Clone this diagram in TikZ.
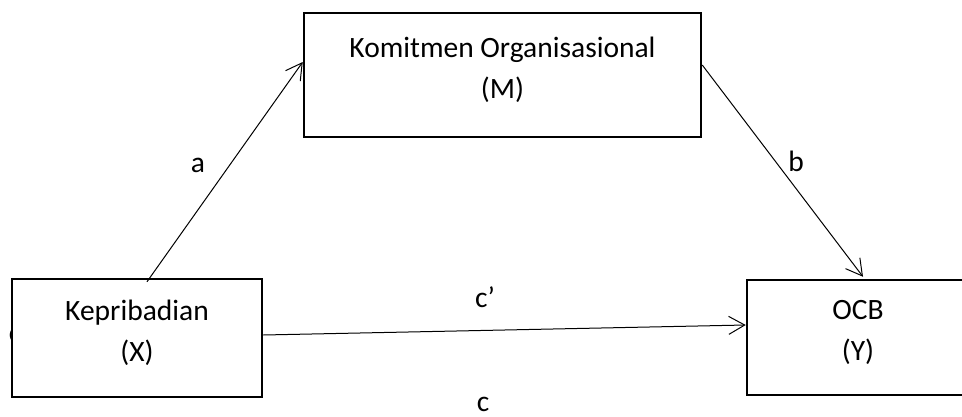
\documentclass[tikz,border=0pt]{standalone}
\usepackage{fontspec}
\setmainfont{Carlito}
\usetikzlibrary{positioning, arrows.meta}

\begin{document}
\begin{tikzpicture}[x=1pt, y=-1pt, main/.style = {draw, line width=2.5pt, fill=white, align=center, inner sep=0pt, text depth=14pt, font=\fontsize{29.5}{41}\selectfont}, arr/.style = {-{Straight Barb[length=16pt, width=18pt]}, line width=1pt}, lbl/.style = {anchor=base, inner sep=0pt, font=\fontsize{29.5}{41}\selectfont}]
            \clip (0,0) rectangle (962,416);
            \node[lbl] (0) at (15,342) {c};
            \node[main, minimum width=250pt, minimum height=118pt] (1) at (137,338) {Kepribadian\\(X)};
            \node[main, minimum width=397pt, minimum height=124pt] (2) at (502.5,75) {Komitmen Organisasional\\(M)};
            \node[main, minimum width=222pt, minimum height=115pt] (3) at (858,337.5) {OCB\\(Y)};
            \draw[arr] ([xshift=10pt, yshift=-4pt]1.north) -- ([yshift=13pt]2.west);
            \draw[arr] ([yshift=10pt]2.east) -- ([xshift=5pt, yshift=2pt]3.north);
            \draw[arr] ([yshift=3pt]1.east) -- ([yshift=12.5pt]3.west);
            \node[lbl] (4) at (198,172) {a};
            \node[lbl] (5) at (796,171) {b};
            \node[lbl] (6) at (485,307) {c’};
            \node[lbl] (7) at (483,411.5) {c};
        \end{tikzpicture}
\end{document}
